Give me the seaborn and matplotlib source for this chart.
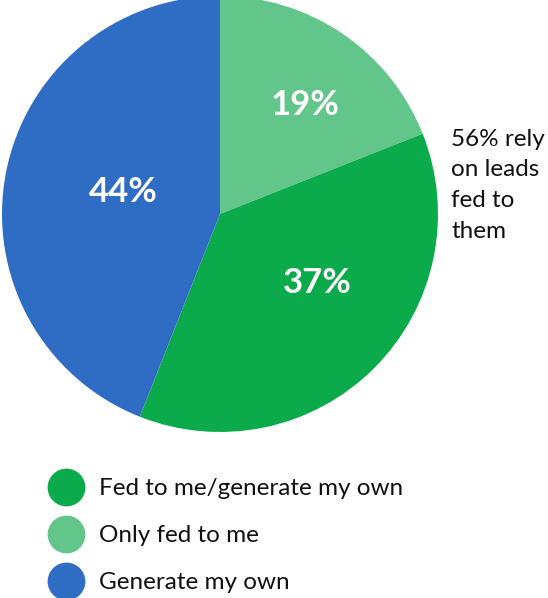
import matplotlib
matplotlib.use("Agg")
import matplotlib.pyplot as plt
import seaborn as sns

# Share of respondents by where their leads come from
categories = ["Only fed to me", "Fed to me/generate my own", "Generate my own"]
values = [19, 37, 44]
colors = ["#62C68A", "#0BAB4B", "#2F6DC4"]
legend_order = ["Fed to me/generate my own", "Only fed to me", "Generate my own"]
note_lines = ["56% rely", "on leads", "fed to", "them"]

sns.set_theme(style="white")
plt.rcParams["font.family"] = ["Lato", "DejaVu Sans"]
palette = dict(zip(categories, sns.color_palette(colors)))

W, H = 548, 598
fig = plt.figure(figsize=(W / 100, H / 100), dpi=100)
ax = fig.add_axes([0, 0, 1, 1])


def py(y):
    """Convert a top-down pixel row into the axes' y coordinate."""
    return H - y


ax.pie(values, colors=[palette[c] for c in categories], startangle=90,
       counterclock=False, center=(220, py(214)), radius=218,
       wedgeprops=dict(linewidth=0))

# pie() resets the limits, so fix the pixel-sized frame afterwards
ax.set_xlim(0, W)
ax.set_ylim(0, H)
ax.set_aspect("equal")
ax.axis("off")

# Percentage labels inside the wedges
label_pos = [(305, 115), (317, 293), (123, 202)]
for v, (x, y) in zip(values, label_pos):
    ax.text(x, py(y), f"{v}%", color="white", fontsize=25, fontweight="bold",
            ha="center", va="baseline")

# Side note
for i, line in enumerate(note_lines):
    ax.text(451, py(146 + 30.5 * i), line, color="#111111", fontsize=17.5,
            ha="left", va="baseline")

# Legend
legend_rows = [487, 534, 581]
for name, y in zip(legend_order, legend_rows):
    ax.scatter([66], [py(y)], s=740, color=palette[name], linewidths=0)
    ax.text(99, py(y + 8), name, color="#111111", fontsize=17.5,
            ha="left", va="baseline")

fig.savefig("out.png", dpi=100)
